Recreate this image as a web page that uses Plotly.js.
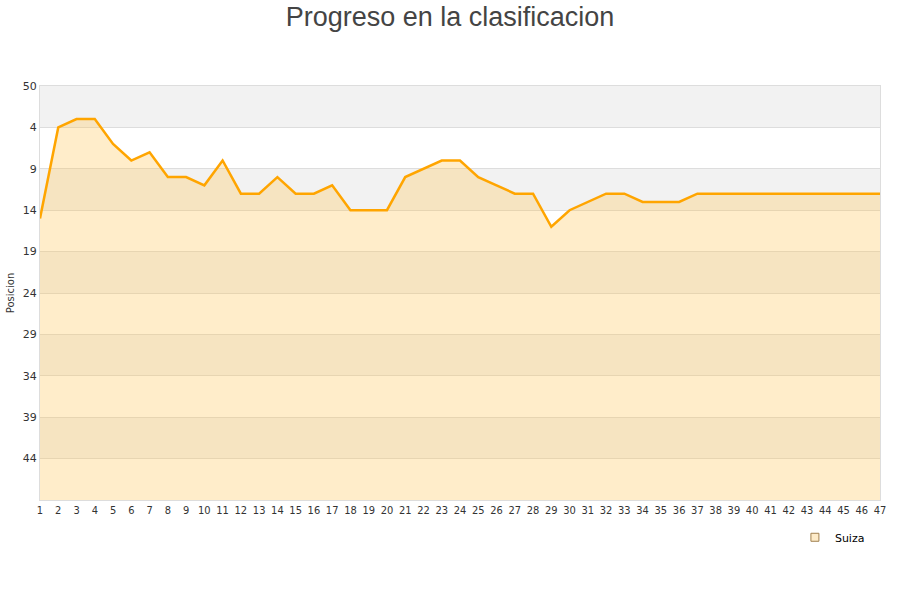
<!DOCTYPE html>
<html><head><meta charset="utf-8">
<script src="https://cdn.plot.ly/plotly-3.0.1.min.js"></script>
<style>html,body{margin:0;padding:0;background:#fff}#c{width:900px;height:600px}</style>
</head><body><div id="c"></div>
<script>
const jornadas = [1,2,3,4,5,6,7,8,9,10,11,12,13,14,15,16,17,18,19,20,21,22,23,24,25,26,27,28,29,30,31,32,33,34,35,36,37,38,39,40,41,42,43,44,45,46,47];
const posiciones = [15,4,3,3,6,8,7,10,10,11,8,12,12,10,12,12,11,14,14,14,10,9,8,8,10,11,12,12,16,14,13,12,12,13,13,13,12,12,12,12,12,12,12,12,12,12,12];
const yTickVals = [-1,4,9,14,19,24,29,34,39,44];
const yTickText = ["50","4","9","14","19","24","29","34","39","44"];
const bandStarts = [-1,9,19,29,39];
const bandWidth = 5;
const yBottom = 49;

const shapes = bandStarts.map(s => ({
  type:'rect', xref:'paper', yref:'y', x0:0, x1:1, y0:s, y1:s+bandWidth,
  fillcolor:'#f2f2f2', line:{width:0}, layer:'below'
}));

const traces = [
  {x:jornadas, y:jornadas.map(()=>yBottom), mode:'lines', line:{width:0}, hoverinfo:'skip', showlegend:false},
  {x:jornadas, y:posiciones, name:'Suiza', mode:'lines', fill:'tonexty', showlegend:false,
   fillcolor:'rgba(255,196,80,0.3)', line:{color:'#ffa500', width:2.5}},
  {x:[null], y:[null], name:'Suiza', mode:'markers',
   marker:{symbol:'square', size:8, color:'#fdebc9', line:{color:'#a08050', width:1}}}
];

const layout = {
  width:900, height:600,
  paper_bgcolor:'#fff', plot_bgcolor:'rgba(0,0,0,0)',
  margin:{l:40, r:20, t:86, b:100},
  title:{text:'Progreso en la clasificacion', x:0.5, xanchor:'center', y:0.988, yanchor:'top',
    font:{family:'"Liberation Sans", Arial, sans-serif', size:27, color:'#444'}},
  xaxis:{range:[1,47], tickmode:'array', tickvals:jornadas, ticktext:jornadas.map(String),
    showgrid:false, zeroline:false, showline:true, linecolor:'#ddd', mirror:true,
    ticks:'', tickfont:{family:'"DejaVu Sans Condensed", "DejaVu Sans", sans-serif', size:11, color:'#333'}},
  yaxis:{range:[yBottom,-1], tickmode:'array', tickvals:yTickVals, ticktext:yTickText,
    showgrid:true, gridcolor:'#ddd', gridwidth:1, zeroline:false, showline:true, linecolor:'#ddd', mirror:true,
    ticks:'', ticklen:0, tickfont:{family:'"DejaVu Sans", sans-serif', size:11, color:'#333'},
    title:{text:'Posicion', standoff:6, font:{family:'"DejaVu Sans", sans-serif', size:10, color:'#333'}}},
  shapes:shapes,
  showlegend:true,
  legend:{x:0.988, xanchor:'right', y:-0.055, yanchor:'top', bgcolor:'rgba(0,0,0,0)',
    font:{family:'"DejaVu Sans", sans-serif', size:11, color:'#000'}, itemwidth:30}
};

Plotly.newPlot('c', traces, layout, {displayModeBar:false, staticPlot:true});
</script></body></html>
